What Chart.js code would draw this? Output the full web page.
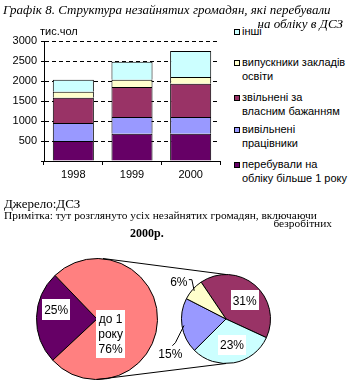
<!DOCTYPE html>
<html>
<head>
<meta charset="utf-8">
<script src="https://cdn.jsdelivr.net/npm/chart.js@4.4.1/dist/chart.umd.min.js"></script>
<style>
  body { margin: 0; background: #fff; }
  #page { position: relative; width: 350px; height: 381px; overflow: hidden; font-family: "Liberation Sans", Arial, sans-serif; color: #000; }
  canvas { position: absolute; }
  .txt { position: absolute; white-space: nowrap; line-height: 1; z-index: 2; }
  .title { font-family: "Liberation Serif", serif; font-style: italic; font-size: 13px; }
  .serif { font-family: "Liberation Serif", serif; }
  #legend { position: absolute; left: 234px; top: 0; font-size: 11px; }
  .item { position: absolute; left: 0; white-space: pre; line-height: 13.5px; padding-left: 8px; }
  .item i { position: absolute; left: 0; top: 4px; width: 4px; height: 4px; border: 1px solid #000; }
</style>
</head>
<body>
<div id="page">
  <div class="txt title" style="left:3px; top:3px;">Графік 8. Структура незайнятих громадян, які перебували</div>
  <div class="txt title" style="right:7px; top:17px;">на обліку в ДСЗ</div>
  <div class="txt" style="left:40px; top:26px; font-size:11px;">тис.чол</div>

  <canvas id="bars" width="230" height="190" style="left:0; top:0;"></canvas>
  <div id="legend"></div>

  <div class="txt serif" style="left:4px; top:197px; font-size:13px;">Джерело:ДСЗ</div>
  <div class="txt serif" style="left:4px; top:210px; font-size:11.4px;">Примітка: тут розглянуто усіх незайнятих громадян, включаючи</div>
  <div class="txt serif" style="right:18px; top:218px; font-size:11.4px;">безробітних</div>
  <div class="txt serif" style="left:130px; top:227px; font-size:12px; font-weight:bold;">2000р.</div>

  <canvas id="pieMain" width="165" height="131" style="left:0; top:250px;"></canvas>
  <canvas id="pieDetail" width="130" height="131" style="left:150px; top:250px;"></canvas>
  <canvas id="links" width="350" height="381" style="left:0; top:0; pointer-events:none;"></canvas>
</div>
<script>
// дані з графіка (тис. чол)
const years = ['1998', '1999', '2000'];
const yTicks = [0, 500, 1000, 1500, 2000, 2500, 3000];

const moreThanYear = [500, 680, 680];
const laidOff = [450, 420, 420];
const ownWill = [630, 750, 830];
const graduates = [150, 180, 170];
const others = [300, 450, 650];

const seriesNames = ['перебували на\nобліку більше 1 року', 'вивільнені\nпрацівники', 'звільнені за\nвласним бажанням', 'випускники закладів\nосвіти', 'інші'];

// 2000 рік, %
const mainNames = ['більше 1 року', 'до 1\nроку'];
const mainValues = [25, 76];
const detailNames = ['звільнені за власним бажанням', 'інші', 'вивільнені працівники', 'випускники закладів освіти'];
const detailValues = [31, 23, 15, 6];

const seriesColors = ['#660066', '#9999FF', '#993366', '#FFFFCC', '#CCFFFF'];
const font = '"Liberation Sans", Arial, sans-serif';

const barData = [moreThanYear, laidOff, ownWill, graduates, others];

new Chart(document.getElementById('bars'), {
  type: 'bar',
  data: {
    labels: years,
    datasets: barData.map((values, i) => ({
      label: seriesNames[i],
      data: values,
      backgroundColor: seriesColors[i],
      borderColor: '#000',
      borderWidth: 1,
      barPercentage: 0.7,
      categoryPercentage: 1
    }))
  },
  options: {
    responsive: false,
    animation: false,
    devicePixelRatio: 1,
    layout: { padding: { top: 41, right: 10, left: 0, bottom: 0 } },
    plugins: { legend: { display: false }, tooltip: { enabled: false } },
    scales: {
      x: {
        stacked: true,
        grid: { offset: true, drawOnChartArea: false, color: '#000', tickLength: 4 },
        border: { color: '#000' },
        ticks: { color: '#000', font: { family: font, size: 11 }, padding: 3 },
        afterFit: (s) => { s.height = 29; }
      },
      y: {
        stacked: true,
        min: 0,
        max: 3000,
        afterBuildTicks: (s) => { s.ticks = yTicks.map(v => ({ value: v })); },
        ticks: { color: '#000', font: { family: font, size: 11 }, padding: 4, callback: v => v === 0 ? '' : v },
        grid: { color: '#000', lineWidth: 1, tickLength: 3 },
        border: { color: '#000', dash: [4, 3] },
        afterFit: (s) => { s.width = 44; }
      }
    }
  }
});

// легенда справа, від верхньої серії до нижньої
const legendTops = [158, 123, 91, 56, 25];
const legend = document.getElementById('legend');
seriesNames.forEach((name, i) => {
  const el = document.createElement('div');
  el.className = 'item';
  el.style.top = legendTops[i] + 'px';
  el.textContent = name;
  const sq = document.createElement('i');
  sq.style.background = seriesColors[i];
  el.appendChild(sq);
  legend.appendChild(el);
});

// підписи часток
const sliceLabels = {
  id: 'sliceLabels',
  afterDatasetsDraw(chart, args, opts) {
    const ctx = chart.ctx;
    const arcs = chart.getDatasetMeta(0).data;
    const values = chart.data.datasets[0].data;
    ctx.save();
    ctx.font = '12px ' + font;
    ctx.textAlign = 'center';
    ctx.textBaseline = 'middle';
    arcs.forEach((arc, i) => {
      const o = opts.items[i];
      const r = arc.outerRadius;
      const cx = arc.x + o.dx * r;
      const cy = arc.y + o.dy * r;
      const lines = o.name ? chart.data.labels[i].split('\n') : [];
      lines.push(values[i] + '%');
      const lh = 15;
      const w = Math.max(...lines.map(t => ctx.measureText(t).width));
      if (o.box) {
        const h = lines.length * lh + 2 * o.padY;
        ctx.fillStyle = '#fff';
        ctx.fillRect(Math.round(cx - w / 2 - 2), Math.round(cy - h / 2), Math.round(w + 4), Math.round(h));
      }
      if (o.leader) {
        const mid = (arc.startAngle + arc.endAngle) / 2;
        ctx.strokeStyle = '#000';
        ctx.lineWidth = 1;
        ctx.beginPath();
        ctx.moveTo(cx + o.leader[0], cy + o.leader[1]);
        ctx.lineTo(cx + o.leader[0] + o.leader[2], cy + o.leader[1] + o.leader[3]);
        ctx.lineTo(arc.x + Math.cos(mid) * (r - 2), arc.y + Math.sin(mid) * (r - 2));
        ctx.stroke();
      }
      ctx.fillStyle = '#000';
      lines.forEach((t, k) => {
        ctx.fillText(t, cx, cy + (k - (lines.length - 1) / 2) * lh + 1);
      });
    });
    ctx.restore();
  }
};

const pieOptions = (rotation, padding, items) => ({
  responsive: false,
  animation: false,
  devicePixelRatio: 1,
  rotation: rotation,
  layout: { padding: padding },
  plugins: { legend: { display: false }, tooltip: { enabled: false }, sliceLabels: { items: items } }
});

const mainPie = new Chart(document.getElementById('pieMain'), {
  type: 'pie',
  data: {
    labels: mainNames,
    datasets: [{ data: mainValues, backgroundColor: ['#660066', '#FF8080'], borderColor: '#000', borderWidth: 1 }]
  },
  options: pieOptions(227, { left: 36, top: 8, right: 7, bottom: 1 }, [
    { dx: -0.675, dy: -0.15, box: true, padY: 3 },
    { dx: 0.225, dy: 0.25, box: true, padY: 1.3, name: true }
  ]),
  plugins: [sliceLabels]
});

const detailPie = new Chart(document.getElementById('pieDetail'), {
  type: 'pie',
  data: {
    labels: detailNames,
    datasets: [{ data: detailValues, backgroundColor: ['#993366', '#CCFFFF', '#9999FF', '#FFFFCC'], borderColor: '#000', borderWidth: 1 }]
  },
  options: pieOptions(-34, { left: 31, top: 24, right: 9, bottom: 17 }, [
    { dx: 0.42, dy: -0.42, box: true, padY: 2.5 },
    { dx: 0.135, dy: 0.58, box: true, padY: 2.5 },
    { dx: -1.25, dy: 0.78, leader: [2, -8, 3, -3] },
    { dx: -1.06, dy: -0.84, leader: [10, -2, 3, 0] }
  ]),
  plugins: [sliceLabels]
});

// лінії між кругами
function drawLinks() {
  const ctx = document.getElementById('links').getContext('2d');
  const a = mainPie.getDatasetMeta(0).data[0];
  const b = detailPie.getDatasetMeta(0).data[0];
  const ax = a.x + 0, ay = a.y + 250;
  const bx = b.x + 150, by = b.y + 250;
  ctx.strokeStyle = '#000';
  ctx.lineWidth = 1;
  ctx.beginPath();
  ctx.moveTo(ax + 6, ay - a.outerRadius);
  ctx.lineTo(bx, by - b.outerRadius);
  ctx.moveTo(ax, ay + a.outerRadius);
  ctx.lineTo(bx, by + b.outerRadius);
  ctx.stroke();
}
drawLinks();
</script>
</body>
</html>
